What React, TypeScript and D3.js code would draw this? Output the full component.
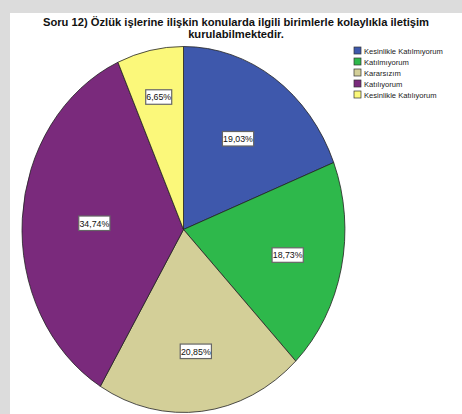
import React from "react";
import * as d3 from "d3";

const categories = [
  "Kesinlikle Katılmıyorum",
  "Katılmıyorum",
  "Kararsızım",
  "Katılıyorum",
  "Kesinlikle Katılıyorum",
];
const percents = [19.03, 18.73, 20.85, 34.74, 6.65];
const colors = ["#3E58AC", "#2EB84B", "#D3CF98", "#7A2A7C", "#FBF87A"];
const titleLines = [
  "Soru 12) Özlük işlerine ilişkin konularda ilgili birimlerle kolaylıkla iletişim",
  "kurulabilmektedir.",
];
// relative radial position of each value label inside its slice
const labelRadius = [0.6, 0.66, 0.67, 0.553, 0.74];

const W = 462;
const H = 414;

export default function App() {
  const cx = 183.5;
  const cy = 229.5;
  const rx = 161.5;
  const ry = 183;
  const pie = d3.pie<number>().sort(null).value((d) => d)(percents);
  const arc = d3.arc<d3.PieArcDatum<number>>().innerRadius(0).outerRadius(1);
  const fmt = (v: number) => v.toFixed(2).replace(".", ",") + "%";
  return (
    <svg
      width={W}
      height={H}
      style={{ position: "fixed", left: 0, top: 0, fontFamily: "Liberation Sans, Arial, sans-serif" }}
    >
      <rect x={0} y={0} width={W} height={H} fill="#dcdcdc" />
      <rect x={10} y={13} width={W - 10} height={H - 13} fill="#ffffff" />
      {titleLines.map((t, i) => (
        <text
          key={i}
          x={236}
          y={26 + i * 12}
          textAnchor="middle"
          fontSize={11.2}
          fontWeight="bold"
          fill="#111"
        >
          {t}
        </text>
      ))}
      <g transform={`translate(${cx},${cy}) scale(${rx},${ry})`}>
        {pie.map((p, i) => (
          <path
            key={i}
            d={arc(p) || ""}
            fill={colors[i]}
            stroke="#222"
            strokeWidth={0.8}
            vectorEffect="non-scaling-stroke"
          />
        ))}
      </g>
      {pie.map((p, i) => {
        const a = (p.startAngle + p.endAngle) / 2;
        const lr = labelRadius[i];
        const x = cx + rx * lr * Math.sin(a);
        const y = cy - ry * lr * Math.cos(a);
        const txt = fmt(percents[i]);
        const bw = txt.length * 5.2;
        const bh = 14.5;
        return (
          <g key={i}>
            <rect
              x={x - bw / 2}
              y={y - bh / 2}
              width={bw}
              height={bh}
              fill="#fff"
              stroke="#666"
              strokeWidth={1.2}
            />
            <text x={x} y={y + 3.3} textAnchor="middle" fontSize={8.8} fill="#111">
              {txt}
            </text>
          </g>
        );
      })}
      {categories.map((c, i) => (
        <g key={i} transform={`translate(354,${47 + i * 11})`}>
          <rect x={0} y={0} width={7} height={7} fill={colors[i]} stroke="#333" strokeWidth={0.7} />
          <text x={10} y={6.5} fontSize={7.6} fill="#222">
            {c}
          </text>
        </g>
      ))}
    </svg>
  );
}
